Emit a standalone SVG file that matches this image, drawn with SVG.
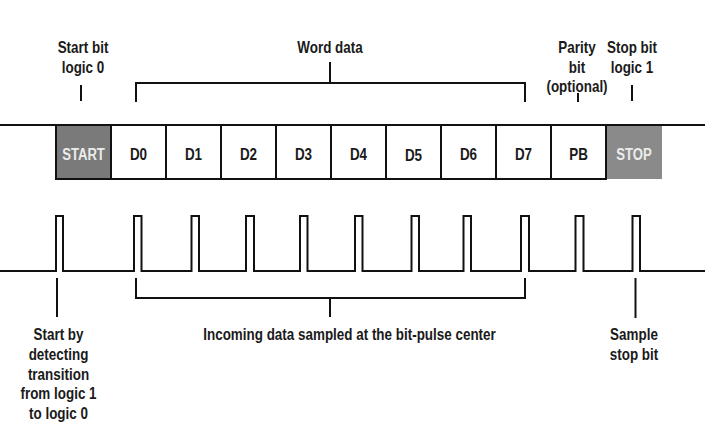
<svg xmlns="http://www.w3.org/2000/svg" width="705" height="426" viewBox="0 0 705 426">
<style>
  text { font-family: "Liberation Sans", Arial, sans-serif; font-weight: bold; font-size: 16px; fill: #1a1a1a; text-anchor: middle; }
  .w { fill: #ececec; }
  .ln { stroke: #111; stroke-width: 2; fill: none; }
  .cell { fill: #fff; stroke: #111; stroke-width: 2; }
</style>
<rect width="705" height="426" fill="#fff"/>

<!-- frame line -->
<g id="frame">
  <rect x="607" y="126" width="55" height="53" fill="#8a8a8a"/>
  <path class="ln" d="M0 125 H705"/>
</g>

<g id="start">
  <rect x="56" y="125" width="55" height="54" fill="#7a7a7a" stroke="#111" stroke-width="2"/>
  <text class="w" transform="translate(83.5 160) scale(0.82 1)">START</text>
</g>
<g id="d0"><rect class="cell" x="111" y="125" width="55" height="54"/><text transform="translate(138.5 160) scale(0.84 1)">D0</text></g>
<g id="d1"><rect class="cell" x="166" y="125" width="55" height="54"/><text transform="translate(193.5 160) scale(0.84 1)">D1</text></g>
<g id="d2"><rect class="cell" x="221" y="125" width="55" height="54"/><text transform="translate(248.5 160) scale(0.84 1)">D2</text></g>
<g id="d3"><rect class="cell" x="276" y="125" width="55" height="54"/><text transform="translate(303.5 160) scale(0.84 1)">D3</text></g>
<g id="d4"><rect class="cell" x="331" y="125" width="55" height="54"/><text transform="translate(358.5 160) scale(0.84 1)">D4</text></g>
<g id="d5"><rect class="cell" x="386" y="125" width="55" height="54"/><text transform="translate(413.5 161) scale(0.84 1)">D5</text></g>
<g id="d6"><rect class="cell" x="441" y="125" width="55" height="54"/><text transform="translate(468.5 160) scale(0.84 1)">D6</text></g>
<g id="d7"><rect class="cell" x="496" y="125" width="55" height="54"/><text transform="translate(523.5 160) scale(0.84 1)">D7</text></g>
<g id="pb"><rect class="cell" x="551" y="125" width="55" height="54"/><text transform="translate(578.5 160) scale(0.84 1)">PB</text></g>
<g id="stop"><text class="w" transform="translate(634 160) scale(0.82 1)">STOP</text></g>

<!-- pulse train -->
<g id="pulses">
  <path class="ln" d="M0 271 H56 V216 H63 V271 H134 V216 H141.5 V271 H191.5 V216 H199 V271 H246 V216 H254 V271 H300 V216 H307.5 V271 H355 V216 H362.5 V271 H411.5 V216 H419 V271 H463.5 V216 H471 V271 H521 V216 H529 V271 H575.5 V216 H583.5 V271 H632.5 V216 H640 V271 H705"/>
</g>

<!-- labels -->
<g id="label-startbit">
  <text transform="translate(83 0) scale(0.84 1)"><tspan x="0" y="53">Start bit</tspan><tspan x="0" y="73">logic 0</tspan></text>
</g>
<g id="label-word">
  <text transform="translate(330 53) scale(0.84 1)">Word data</text>
</g>
<g id="label-parity">
  <text transform="translate(577 0) scale(0.84 1)"><tspan x="0" y="53">Parity</tspan><tspan x="0" y="73">bit</tspan><tspan x="0" y="92">(optional)</tspan></text>
</g>
<g id="label-stopbit">
  <text transform="translate(632 0) scale(0.84 1)"><tspan x="0" y="53">Stop bit</tspan><tspan x="0" y="73">logic 1</tspan></text>
</g>
<g id="label-startby">
  <text transform="translate(58.5 0) scale(0.84 1)"><tspan x="0" y="340">Start by</tspan><tspan x="0" y="360">detecting</tspan><tspan x="0" y="380">transition</tspan><tspan x="0" y="399.5">from logic 1</tspan><tspan x="0" y="419">to logic 0</tspan></text>
</g>
<g id="label-incoming">
  <text transform="translate(349.5 340) scale(0.84 1)">Incoming data sampled at the bit-pulse center</text>
</g>
<g id="label-sample">
  <text transform="translate(634 0) scale(0.84 1)"><tspan x="0" y="340">Sample</tspan><tspan x="0" y="360">stop bit</tspan></text>
</g>

<!-- connectors -->
<g id="connectors" class="ln">
  <path d="M81 85 V101"/>
  <path d="M136 102 V83 H525 V102 M330 62 V83"/>
  <path d="M578 93 V102"/>
  <path d="M632 85 V101"/>
  <path d="M57 278 V317"/>
  <path d="M136 278 V298 H525 V278 M330 298 V317"/>
  <path d="M635.5 278 V318"/>
</g>
</svg>
